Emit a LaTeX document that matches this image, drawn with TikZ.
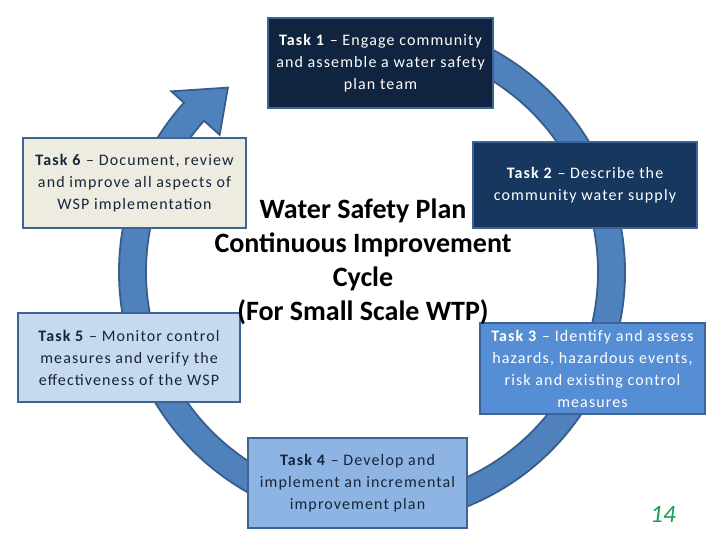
\documentclass[tikz,border=0pt]{standalone}
\usepackage{fontspec}
\setmainfont{Carlito}
\newfontfamily\taskfont{Carlito}[LetterSpace=7]
\usetikzlibrary{calc}
\definecolor{ringfill}{HTML}{4F81BD}
\definecolor{ringline}{HTML}{385D8A}
\definecolor{boxline}{HTML}{3E6496}
\definecolor{navyA}{HTML}{10243F}
\definecolor{navyB}{HTML}{17375E}
\definecolor{blueC}{HTML}{558ED5}
\definecolor{blueD}{HTML}{8EB4E3}
\definecolor{blueE}{HTML}{C6D9F1}
\definecolor{beige}{HTML}{EEECE1}
\definecolor{darktext}{HTML}{16253B}
\definecolor{pagegreen}{HTML}{10A050}
\begin{document}
\begin{tikzpicture}[x=1pt,y=1pt,
  task/.style={draw=boxline, line width=2.2pt, align=center, inner sep=0pt,
    font=\taskfont\fontsize{16}{22}\selectfont},
  ringstyle/.style={fill=ringfill, draw=ringline, line width=1.8pt, line join=miter}]
\useasboundingbox (0,0) rectangle (720,540);
\coordinate (c) at (372,268);
% circular arrow
\path[ringstyle]
  ($(c)+(100:253)$) arc[start angle=100, end angle=-222, radius=253]
  -- ($(c)+(138:270)$) -- ($(c)+(128:234)$) -- ($(c)+(138:205)$)
  -- ($(c)+(-222:226)$) arc[start angle=-222, end angle=100, radius=226] -- cycle;
% boxes
\node[task, fill=navyA, text=white, minimum width=225, minimum height=90] (t1) at (380.5,477)
  {\textbf{Task 1} – Engage community\\and assemble a water safety\\plan team};
\node[task, fill=navyB, text=white, minimum width=224, minimum height=86] (t2) at (585,355)
  {\textbf{Task 2} – Describe the\\community water supply};
\node[task, fill=blueC, text=white, minimum width=225, minimum height=91] (t3) at (592.5,171.5)
  {\textbf{Task 3} – Identify and assess\\hazards, hazardous events,\\risk and existing control\\measures};
\node[task, fill=blueD, text=darktext, minimum width=219, minimum height=90] (t4) at (357.5,57)
  {\textbf{Task 4} – Develop and\\implement an incremental\\improvement plan};
\node[task, fill=blueE, text=darktext, minimum width=222, minimum height=89] (t5) at (129,182.5)
  {\textbf{Task 5} – Monitor control\\measures and verify the\\effectiveness of the WSP};
\node[task, fill=beige, text=darktext, minimum width=223, minimum height=90] (t6) at (134.5,357)
  {\textbf{Task 6} – Document, review\\and improve all aspects of\\WSP implementation};
% title
\node[align=center, font=\fontsize{28}{34}\selectfont\bfseries, inner sep=0pt] (title) at (363,278)
  {Water Safety Plan\\Continuous Improvement\\Cycle\\(For Small Scale WTP)};
% page number
\node[font=\fontsize{25}{28}\selectfont\itshape, text=pagegreen, inner sep=0pt] (pg) at (663,25.5) {14};
\end{tikzpicture}
\end{document}
